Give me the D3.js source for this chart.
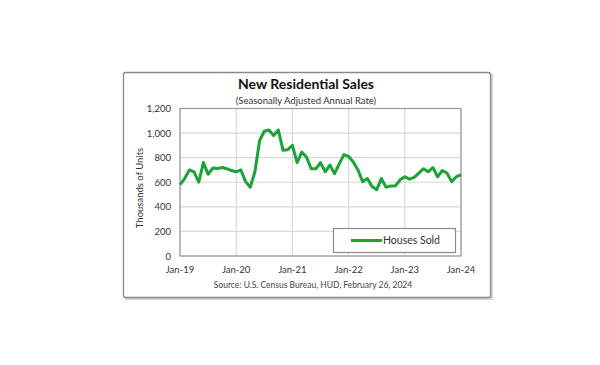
<!DOCTYPE html>
<html>
<head>
<meta charset="utf-8">
<script src="https://cdn.jsdelivr.net/npm/d3@7"></script>
<style>
  body { margin: 0; background: #fff; }
  svg { display: block; font-family: Lato, "Open Sans", sans-serif; }
</style>
</head>
<body>
<div id="chart"></div>
<script>
// monthly sales, thousands of units (SAAR), Jan-19 .. Jan-24
var sales = [
  580, 630, 700, 685, 600, 760, 665, 715, 712, 720, 710, 695,
  685, 700, 605, 560, 685, 940, 1015, 1025, 980, 1025, 860, 865,
  900, 760, 845, 805, 710, 710, 760, 685, 740, 670, 750, 825,
  810, 765, 700, 605, 630, 565, 540, 630, 560, 570, 570, 620,
  645, 625, 640, 675, 710, 685, 720, 645, 695, 675, 605, 645,
  660
];
var tickLabels = ["Jan-19", "Jan-20", "Jan-21", "Jan-22", "Jan-23", "Jan-24"];
var yTicks = [0, 200, 400, 600, 800, 1000, 1200];

var green = "#1aa336";

document.addEventListener("DOMContentLoaded", function() {
    var svg = d3.select("#chart").append("svg")
        .attr("width", 600)
        .attr("height", 365);

    // outer frame with a soft shadow
    svg.append("rect")
        .attr("x", 125).attr("y", 74)
        .attr("width", 368).attr("height", 226)
        .style("fill", "#d4d4d4");
    svg.append("rect")
        .attr("x", 123.5).attr("y", 72.5)
        .attr("width", 367).attr("height", 225)
        .attr("rx", 2)
        .style("fill", "#fff")
        .style("stroke", "#8a8a8a")
        .style("stroke-width", 1.3);

    var left = 180, right = 461, top = 108.5, bottom = 256;

    var x = d3.scaleLinear().domain([0, sales.length - 1]).range([left, right]);
    var y = d3.scaleLinear().domain([0, 1200]).range([bottom, top]);

    // gridlines
    svg.append("g").selectAll("line.h")
        .data(yTicks)
        .enter().append("line")
        .attr("x1", left).attr("x2", right)
        .attr("y1", function(d) { return y(d); })
        .attr("y2", function(d) { return y(d); })
        .style("stroke", "#d9d9d9").style("stroke-width", 1.2);

    svg.append("g").selectAll("line.v")
        .data(tickLabels)
        .enter().append("line")
        .attr("x1", function(d, i) { return x(i * 12); })
        .attr("x2", function(d, i) { return x(i * 12); })
        .attr("y1", top).attr("y2", bottom)
        .style("stroke", "#d9d9d9").style("stroke-width", 1.2);

    // plot border
    svg.append("rect")
        .attr("x", left).attr("y", top)
        .attr("width", right - left).attr("height", bottom - top)
        .style("fill", "none")
        .style("stroke", "#9a9a9a")
        .style("stroke-width", 1.2);

    // y tick labels
    svg.append("g").selectAll("text")
        .data(yTicks)
        .enter().append("text")
        .attr("x", 171)
        .attr("y", function(d) { return y(d) + 3.5; })
        .attr("text-anchor", "end")
        .style("font-size", "9.5px")
        .style("fill", "#333")
        .text(d3.format(","));

    // x tick labels
    svg.append("g").selectAll("text")
        .data(tickLabels)
        .enter().append("text")
        .attr("x", function(d, i) { return x(i * 12); })
        .attr("y", 273)
        .attr("text-anchor", "middle")
        .style("font-size", "9.5px")
        .style("fill", "#333")
        .text(function(d) { return d; });

    // line
    var line = d3.line()
        .x(function(d, i) { return x(i); })
        .y(function(d) { return y(d); });

    svg.append("path")
        .datum(sales)
        .attr("d", line)
        .style("fill", "none")
        .style("stroke", green)
        .style("stroke-width", 3)
        .style("stroke-linejoin", "round");

    // titles
    svg.append("text")
        .attr("x", 306).attr("y", 89)
        .attr("text-anchor", "middle")
        .style("font-size", "14px")
        .style("font-weight", "bold")
        .style("fill", "#111")
        .text("New Residential Sales");

    svg.append("text")
        .attr("x", 306).attr("y", 104)
        .attr("text-anchor", "middle")
        .style("font-size", "9.5px")
        .style("fill", "#333")
        .text("(Seasonally Adjusted Annual Rate)");

    svg.append("text")
        .attr("transform", "translate(143,188) rotate(-90)")
        .attr("text-anchor", "middle")
        .style("font-size", "9.5px")
        .style("fill", "#333")
        .text("Thousands of Units");

    svg.append("text")
        .attr("x", 313).attr("y", 288)
        .attr("text-anchor", "middle")
        .style("font-size", "8.5px")
        .style("fill", "#444")
        .text("Source:  U.S. Census Bureau, HUD, February 26, 2024");

    // legend
    svg.append("rect")
        .attr("x", 333.5).attr("y", 228.5)
        .attr("width", 122).attr("height", 24)
        .style("fill", "#fff")
        .style("stroke", "#8a8a8a")
        .style("stroke-width", 1.2);
    svg.append("line")
        .attr("x1", 351).attr("x2", 382)
        .attr("y1", 240.5).attr("y2", 240.5)
        .style("stroke", green).style("stroke-width", 3);
    svg.append("text")
        .attr("x", 383).attr("y", 244)
        .style("font-size", "10.5px")
        .style("fill", "#333")
        .text("Houses Sold");
});
</script>
</body>
</html>
